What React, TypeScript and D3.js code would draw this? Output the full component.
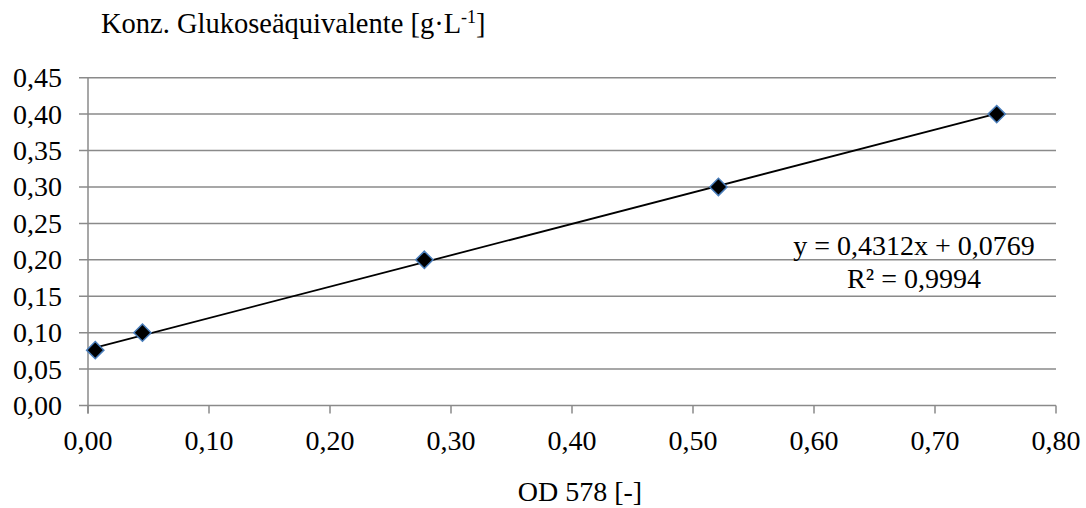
import React, { useEffect, useRef } from 'react';
import * as d3 from 'd3';

const odValues = [0.006, 0.045, 0.278, 0.521, 0.751];
const concValues = [0.076, 0.1, 0.2, 0.3, 0.4];
const xTicks = [0, 0.1, 0.2, 0.3, 0.4, 0.5, 0.6, 0.7, 0.8];
const yTicks = [0, 0.05, 0.1, 0.15, 0.2, 0.25, 0.3, 0.35, 0.4, 0.45];
const slope = 0.4312;
const intercept = 0.0769;
const eqText = 'y = 0,4312x + 0,0769';
const r2Text = 'R² = 0,9994';

const W = 1086, H = 508;
const FONT = '"Liberation Serif", "Times New Roman", serif';

const fmt = (v: number) => v.toFixed(2).replace('.', ',');

export default function App() {
  const ref = useRef<SVGSVGElement>(null);

  useEffect(() => {
    const svg = d3.select(ref.current);
    svg.selectAll('*').remove();

    const left = 88, right = 1056, top = 77.7, bottom = 405.5;
    const x = d3.scaleLinear().domain([0, 0.8]).range([left, right]);
    const y = d3.scaleLinear().domain([0, 0.45]).range([bottom, top]);

    svg.append('rect').attr('width', W).attr('height', H).attr('fill', '#fff');

    // gridlines (incl. the tick stub to the left)
    svg.append('g')
      .selectAll('line')
      .data(yTicks)
      .enter()
      .append('line')
      .attr('x1', left - 9)
      .attr('x2', right)
      .attr('y1', d => y(d))
      .attr('y2', d => y(d))
      .attr('stroke', '#8a8a8a')
      .attr('stroke-width', 1.5);

    // y axis line
    svg.append('line')
      .attr('x1', left).attr('x2', left)
      .attr('y1', top).attr('y2', bottom + 8)
      .attr('stroke', '#8a8a8a').attr('stroke-width', 1.5);

    // x ticks
    svg.append('g')
      .selectAll('line')
      .data(xTicks)
      .enter()
      .append('line')
      .attr('x1', d => x(d)).attr('x2', d => x(d))
      .attr('y1', bottom).attr('y2', bottom + 8)
      .attr('stroke', '#8a8a8a').attr('stroke-width', 1.5);

    // y labels
    svg.append('g')
      .selectAll('text')
      .data(yTicks)
      .enter()
      .append('text')
      .attr('x', 62)
      .attr('y', d => y(d) + 9.5)
      .attr('text-anchor', 'end')
      .attr('font-family', FONT)
      .attr('font-size', 28)
      .attr('fill', '#000')
      .text(d => fmt(d));

    // x labels
    svg.append('g')
      .selectAll('text')
      .data(xTicks)
      .enter()
      .append('text')
      .attr('x', d => x(d))
      .attr('y', 450)
      .attr('text-anchor', 'middle')
      .attr('font-family', FONT)
      .attr('font-size', 28)
      .attr('fill', '#000')
      .text(d => fmt(d));

    // trendline
    const x0 = d3.min(odValues) as number, x1 = d3.max(odValues) as number;
    svg.append('line')
      .attr('x1', x(x0)).attr('y1', y(slope * x0 + intercept))
      .attr('x2', x(x1)).attr('y2', y(slope * x1 + intercept))
      .attr('stroke', '#000').attr('stroke-width', 1.8);

    // markers
    const diamond = d3.symbol().type(d3.symbolDiamond2).size(190);
    svg.append('g')
      .selectAll('path')
      .data(odValues)
      .enter()
      .append('path')
      .attr('d', diamond)
      .attr('transform', (d, i) => 'translate(' + x(d) + ',' + y(concValues[i]) + ')')
      .attr('fill', '#000')
      .attr('stroke', '#4a7ebb')
      .attr('stroke-width', 1.5);

    // equation
    const eq = svg.append('g')
      .attr('font-family', FONT)
      .attr('font-size', 28)
      .attr('fill', '#000')
      .attr('text-anchor', 'middle');
    eq.append('text').attr('x', 914).attr('y', 255).text(eqText);
    eq.append('text').attr('x', 914).attr('y', 288).text(r2Text);

    // axis titles
    const title = svg.append('text')
      .attr('x', 101).attr('y', 33)
      .attr('font-family', FONT)
      .attr('font-size', 28.5)
      .attr('fill', '#000');
    title.append('tspan').text('Konz. Glukoseäquivalente [g·L');
    title.append('tspan').attr('dy', -10).attr('font-size', 18).text('-1');
    title.append('tspan').attr('dy', 10).text(']');

    svg.append('text')
      .attr('x', 580).attr('y', 501)
      .attr('text-anchor', 'middle')
      .attr('font-family', FONT)
      .attr('font-size', 28)
      .attr('fill', '#000')
      .text('OD 578 [-]');
  }, []);

  return (
    <svg ref={ref} width={W} height={H}
         style={{ position: 'absolute', left: 0, top: 0, display: 'block' }} />
  );
}
